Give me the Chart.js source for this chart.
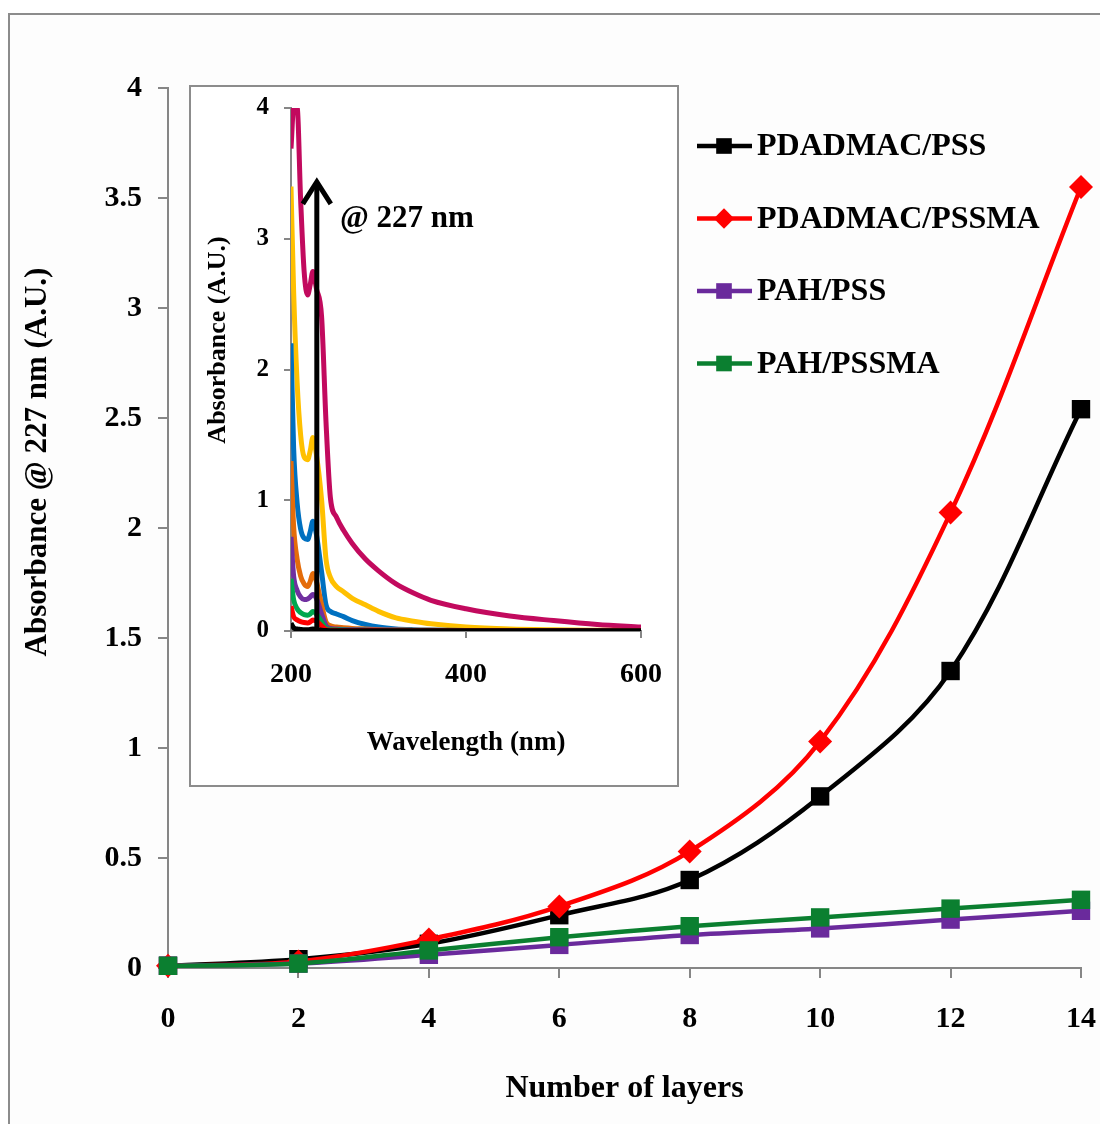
<!DOCTYPE html>
<html>
<head>
<meta charset="utf-8">
<script src="https://cdn.jsdelivr.net/npm/chart.js@4.4.1/dist/chart.umd.min.js"></script>
<style>
  html, body { margin:0; padding:0; background:#fff; }
  body { width:1100px; height:1124px; position:relative; overflow:hidden; }
  #frame { position:absolute; left:8px; top:13px; width:1200px; height:1200px;
           border-left:2px solid #8c8c8c; border-top:2px solid #8c8c8c; background:#fdfdfd; }
  #main { position:absolute; left:0; top:0; }
  #insetBox { position:absolute; left:189px; top:85px; width:486px; height:698px;
              border:2px solid #8c8c8c; background:#fff; }
  #inset { position:absolute; left:0; top:0; }
</style>
</head>
<body>
<div id="frame"></div>
<canvas id="main" width="1100" height="1124"></canvas>
<div id="insetBox"><canvas id="inset" width="486" height="698"></canvas></div>
<script>
// --- main chart data (absorbance @ 227 nm vs number of layers) ---
const layers       = [0, 2, 4, 6, 8, 10, 12, 14];
const pdadmacPss   = [0.01, 0.04, 0.11, 0.24, 0.40, 0.78, 1.35, 2.54];
const pdadmacPssma = [0.01, 0.03, 0.13, 0.28, 0.53, 1.03, 2.07, 3.55];
const pahPss       = [0.01, 0.02, 0.06, 0.105, 0.15, 0.18, 0.22, 0.26];
const pahPssma     = [0.01, 0.02, 0.08, 0.14, 0.19, 0.23, 0.27, 0.31];
const seriesLabels = ['PDADMAC/PSS', 'PDADMAC/PSSMA', 'PAH/PSS', 'PAH/PSSMA'];

// --- inset data (UV-vis spectra) ---
const wavelengths = [200, 203, 207, 211, 215, 219, 222, 225, 229, 235, 240, 245, 252, 260, 270, 285, 300, 320, 340, 360, 400, 450, 500, 550, 600];
const specBlack   = [0.06, 0.025, 0.015, 0.012, 0.01, 0.01, 0.012, 0.016, 0.012, 0.006, 0.003, 0.002, 0.002, 0.002, 0.002, 0.002, 0.002, 0.001, 0.001, 0.001, 0.001, 0.001, 0.001, 0.001, 0.001];
const specRed     = [0.19, 0.11, 0.085, 0.072, 0.065, 0.062, 0.07, 0.085, 0.075, 0.04, 0.01, 0.006, 0.005, 0.004, 0.004, 0.003, 0.003, 0.002, 0.002, 0.002, 0.002, 0.001, 0.001, 0.001, 0.001];
const specGreen   = [0.40, 0.24, 0.17, 0.14, 0.125, 0.12, 0.13, 0.15, 0.13, 0.07, 0.02, 0.012, 0.01, 0.008, 0.006, 0.005, 0.004, 0.003, 0.003, 0.002, 0.002, 0.002, 0.002, 0.001, 0.001];
const specPurple  = [0.72, 0.42, 0.31, 0.26, 0.24, 0.245, 0.26, 0.28, 0.25, 0.13, 0.04, 0.02, 0.015, 0.012, 0.01, 0.008, 0.006, 0.005, 0.004, 0.003, 0.003, 0.002, 0.002, 0.002, 0.002];
const specOrange  = [1.30, 0.80, 0.55, 0.42, 0.36, 0.34, 0.38, 0.44, 0.38, 0.20, 0.07, 0.04, 0.03, 0.025, 0.02, 0.015, 0.01, 0.008, 0.006, 0.005, 0.004, 0.003, 0.003, 0.002, 0.002];
const specBlue    = [2.20, 1.40, 0.98, 0.78, 0.71, 0.70, 0.76, 0.84, 0.74, 0.45, 0.20, 0.15, 0.13, 0.11, 0.08, 0.05, 0.03, 0.016, 0.01, 0.007, 0.004, 0.003, 0.002, 0.002, 0.001];
const specGold    = [3.40, 2.60, 1.90, 1.50, 1.33, 1.31, 1.38, 1.48, 1.35, 1.00, 0.55, 0.41, 0.34, 0.30, 0.25, 0.20, 0.15, 0.10, 0.075, 0.055, 0.03, 0.015, 0.009, 0.006, 0.004];
const specMagenta = [3.69, 4.00, 4.00, 3.30, 2.75, 2.57, 2.65, 2.75, 2.62, 2.40, 1.60, 1.02, 0.87, 0.77, 0.67, 0.55, 0.46, 0.36, 0.29, 0.235, 0.17, 0.115, 0.08, 0.05, 0.03];
const arrowNm = 229.5, arrowTop = 3.45;          // arrow marking 227 nm
const arrowLabel = '@ 227 nm', arrowLabelAt = [256, 3.15];

const SERIF = '"Liberation Serif", "Times New Roman", serif';
const AXIS = '#868686';
Chart.defaults.font.family = SERIF;
Chart.defaults.color = '#000';

const pts = (xs, ys) => xs.map((x, i) => ({ x, y: ys[i] }));

// series styles
const mainStyles = [
  { color:'#000000', pointStyle:'rect',    radius:13, order:3 },
  { color:'#ff0000', pointStyle:'rectRot', radius:12, order:2 },
  { color:'#6a2a9c', pointStyle:'rect',    radius:13, order:1 },
  { color:'#0b7f30', pointStyle:'rect',    radius:13, order:0 }
];
const mainValues = [pdadmacPss, pdadmacPssma, pahPss, pahPssma];

// custom legend + rotated y title
const mainDecor = {
  id: 'mainDecor',
  afterDraw(chart) {
    const ctx = chart.ctx;
    ctx.save();
    ctx.translate(38, 462);
    ctx.rotate(-Math.PI / 2);
    ctx.font = 'bold 31px ' + SERIF;
    ctx.fillStyle = '#000';
    ctx.textAlign = 'center';
    ctx.textBaseline = 'middle';
    ctx.fillText('Absorbance @ 227 nm (A.U.)', 0, 0);
    ctx.restore();

    // legend
    ctx.save();
    chart.data.datasets.forEach((ds, i) => {
      const y = 146 + i * 72.5;
      ctx.strokeStyle = ds.borderColor;
      ctx.lineWidth = 4.5;
      ctx.beginPath();
      ctx.moveTo(697, y); ctx.lineTo(752, y);
      ctx.stroke();
      ctx.fillStyle = ds.backgroundColor;
      Chart.helpers.drawPoint(ctx, { pointStyle: ds.pointStyle, radius: ds.pointRadius * 0.85, rotation: 0, borderWidth: 0 }, 724, y);
      ctx.fillStyle = '#000';
      ctx.font = 'bold 32px ' + SERIF;
      ctx.textAlign = 'left';
      ctx.textBaseline = 'middle';
      ctx.fillText(ds.label, 757, y + 1);
    });
    ctx.restore();
  }
};

new Chart(document.getElementById('main'), {
  type: 'line',
  data: {
    datasets: mainValues.map((vals, i) => ({
      label: seriesLabels[i],
      data: pts(layers, vals),
      borderColor: mainStyles[i].color,
      backgroundColor: mainStyles[i].color,
      borderWidth: 4.5,
      pointStyle: mainStyles[i].pointStyle,
      pointRadius: mainStyles[i].radius,
      pointBorderWidth: 0,
      tension: 0.35,
      order: mainStyles[i].order,
      clip: false
    }))
  },
  options: {
    responsive: false,
    animation: false,
    layout: { padding: { left: 0, top: 88, right: 19, bottom: 0 } },
    plugins: { legend: { display: false }, tooltip: { enabled: false } },
    scales: {
      x: {
        type: 'linear', min: 0, max: 14,
        ticks: { stepSize: 2, padding: 23, font: { size: 30, weight: 'bold' }, color: '#000' },
        grid: { drawOnChartArea: false, color: AXIS, lineWidth: 2, tickLength: 10 },
        border: { color: AXIS, width: 2 },
        title: { display: true, text: 'Number of layers', font: { size: 32, weight: 'bold' }, color: '#000', padding: { top: 0, bottom: 16 } },
        afterFit: s => { s.height = 156; s.paddingLeft = 0; s.paddingRight = 0; }
      },
      y: {
        min: 0, max: 4,
        ticks: { stepSize: 0.5, padding: 16, font: { size: 30, weight: 'bold' }, color: '#000',
                 callback: v => String(v) },
        grid: { drawOnChartArea: false, color: AXIS, lineWidth: 2, tickLength: 10 },
        border: { color: AXIS, width: 2 },
        afterFit: s => { s.width = 168; s.paddingTop = 0; s.paddingBottom = 0; }
      }
    }
  },
  plugins: [mainDecor]
});

// --- inset ---
const specSeries = [
  { data: specBlack,   color: '#000000' },
  { data: specRed,     color: '#ff0000' },
  { data: specGreen,   color: '#00a84f' },
  { data: specPurple,  color: '#7030a0' },
  { data: specOrange,  color: '#e46c0a' },
  { data: specBlue,    color: '#0070c0' },
  { data: specGold,    color: '#ffc000' },
  { data: specMagenta, color: '#c20a5e' }
];

const insetDecor = {
  id: 'insetDecor',
  afterDatasetsDraw(chart) {
    const { ctx, scales: { x, y } } = chart;
    const px = x.getPixelForValue(arrowNm);
    const y0 = y.getPixelForValue(0);
    const y1 = y.getPixelForValue(arrowTop);
    ctx.save();
    ctx.strokeStyle = '#000';
    ctx.lineWidth = 5;
    ctx.beginPath();
    ctx.moveTo(px, y0); ctx.lineTo(px, y1 + 2);
    ctx.stroke();
    ctx.lineJoin = 'miter';
    ctx.beginPath();
    ctx.moveTo(px - 14, y1 + 24); ctx.lineTo(px, y1 + 2); ctx.lineTo(px + 14, y1 + 24);
    ctx.stroke();
    ctx.fillStyle = '#000';
    ctx.font = 'bold 31px ' + SERIF;
    ctx.textAlign = 'left';
    ctx.textBaseline = 'middle';
    ctx.fillText(arrowLabel, x.getPixelForValue(arrowLabelAt[0]), y.getPixelForValue(arrowLabelAt[1]));
    ctx.restore();
  },
  afterDraw(chart) {
    const ctx = chart.ctx;
    ctx.save();
    ctx.translate(27, 253);
    ctx.rotate(-Math.PI / 2);
    ctx.font = 'bold 26px ' + SERIF;
    ctx.fillStyle = '#000';
    ctx.textAlign = 'center';
    ctx.textBaseline = 'middle';
    ctx.fillText('Absorbance (A.U.)', 0, 0);
    ctx.restore();
  }
};

new Chart(document.getElementById('inset'), {
  type: 'line',
  data: {
    datasets: specSeries.map(s => ({
      data: pts(wavelengths, s.data),
      borderColor: s.color,
      borderWidth: 5,
      pointRadius: 0,
      cubicInterpolationMode: 'monotone'
    }))
  },
  options: {
    responsive: false,
    animation: false,
    layout: { padding: { left: 0, top: 21, right: 36, bottom: 0 } },
    plugins: { legend: { display: false }, tooltip: { enabled: false } },
    scales: {
      x: {
        type: 'linear', min: 200, max: 600,
        ticks: { stepSize: 200, padding: 20, font: { size: 28, weight: 'bold' }, color: '#000' },
        grid: { drawOnChartArea: false, color: AXIS, lineWidth: 2, tickLength: 7 },
        border: { color: AXIS, width: 2 },
        title: { display: true, text: 'Wavelength (nm)', font: { size: 27, weight: 'bold' }, color: '#000', padding: { top: 0, bottom: 26 } },
        afterFit: s => { s.height = 154; s.paddingLeft = 0; s.paddingRight = 0; }
      },
      y: {
        min: 0, max: 4,
        ticks: { stepSize: 1, padding: 15, font: { size: 25, weight: 'bold' }, color: '#000' },
        grid: { drawOnChartArea: false, color: AXIS, lineWidth: 2, tickLength: 7 },
        border: { color: AXIS, width: 2 },
        afterFit: s => { s.width = 100; s.paddingTop = 0; s.paddingBottom = 0; }
      }
    }
  },
  plugins: [insetDecor]
});
</script>
</body>
</html>
